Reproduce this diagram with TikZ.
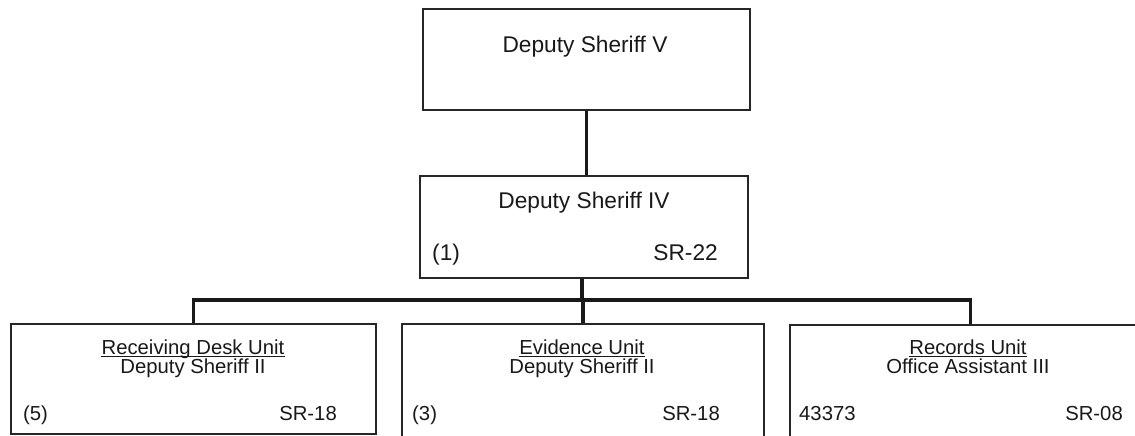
\documentclass[tikz,border=0pt]{standalone}
\usepackage{fontspec}
\setmainfont{Liberation Sans}
\begin{document}
\begin{tikzpicture}[x=1pt,y=-1pt,
  box/.style={draw=black!85, line width=1.6pt, inner sep=0pt, anchor=north west},
  link/.style={draw=black!90, line width=3.6pt},
  big/.style={font=\fontsize{22.7}{27}\selectfont, text=black!90, inner sep=0pt},
  small/.style={font=\fontsize{20.3}{24}\selectfont, text=black!90, inner sep=0pt},
  uline/.style={draw=black!90, line width=1.2pt}]
\useasboundingbox (0,0) rectangle (1135,436);
\clip (0,0) rectangle (1135,436);
\fill[white] (0,0) rectangle (1135,436);

% boxes
\node[box, minimum width=327pt, minimum height=101pt] (dsv)  at (422,8)   {};
\node[box, minimum width=328pt, minimum height=102pt] (dsiv) at (419,175) {};
\node[box, minimum width=365pt, minimum height=110pt] (rdu)  at (10,323)  {};
\node[box, minimum width=362pt, minimum height=130pt] (evu)  at (401,323) {};
\node[box, minimum width=361pt, minimum height=130pt] (reu)  at (789,324) {};

% connectors
\coordinate (bus) at (582,300);
\draw[link] (dsv.south) -- (dsv.south |- dsiv.north);
\draw[link] (dsiv.south -| bus) -- (bus);
\draw[link] (rdu.north) |- (bus) -| (reu.north);
\draw[link] (evu.north) -- (evu.north |- bus);

% top boxes
\node[big, anchor=base] (t1) at (585,53) {Deputy Sheriff V};
\node[big, anchor=base] (t2) at (584,208) {Deputy Sheriff IV};
\node[big, anchor=base west] (t2a) at (432,260) {(1)};
\node[big, anchor=base east] (t2b) at (718,260) {SR-22};

% unit boxes
\node[small, anchor=base] (u1) at (193,354) {Receiving Desk Unit};
\node[small, anchor=base] (r1) at (193,373.5) {Deputy Sheriff II};
\node[small, anchor=base west] (n1) at (23,420) {(5)};
\node[small, anchor=base east] (s1) at (337,420) {SR-18};

\node[small, anchor=base] (u2) at (582,354) {Evidence Unit};
\node[small, anchor=base] (r2) at (582,373.5) {Deputy Sheriff II};
\node[small, anchor=base west] (n2) at (412,420) {(3)};
\node[small, anchor=base east] (s2) at (720,420) {SR-18};

\node[small, anchor=base] (u3) at (968,354) {Records Unit};
\node[small, anchor=base] (r3) at (968,373.5) {Office Assistant III};
\node[small, anchor=base west] (n3) at (799,420) {43373};
\node[small, anchor=base east] (s3) at (1123,420) {SR-08};

% unit name underlines
\foreach \u in {u1,u2,u3}
  \draw[uline] ([yshift=-2.6pt]\u.base west) -- ([yshift=-2.6pt]\u.base east);
\end{tikzpicture}
\end{document}
